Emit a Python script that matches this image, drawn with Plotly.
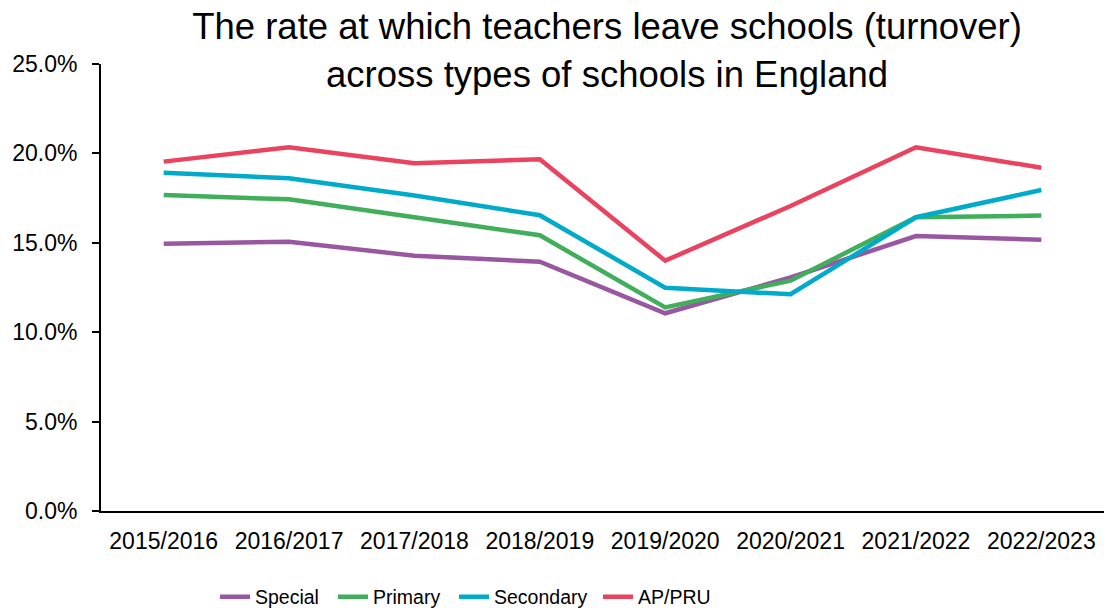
import plotly.graph_objects as go

years = ["2015/2016", "2016/2017", "2017/2018", "2018/2019",
         "2019/2020", "2020/2021", "2021/2022", "2022/2023"]

special = [0.1495, 0.1506, 0.1428, 0.1394, 0.1106, 0.1306, 0.1538, 0.1517]
primary = [0.1767, 0.1743, 0.1643, 0.1542, 0.1139, 0.1288, 0.1643, 0.1652]
secondary = [0.1892, 0.1861, 0.1764, 0.1654, 0.1249, 0.1212, 0.1643, 0.1795]
ap_pru = [0.1954, 0.2034, 0.1945, 0.1967, 0.1400, 0.1706, 0.2034, 0.1920]

series = [
    ("Special", special, "#9857A0"),
    ("Primary", primary, "#40AE5B"),
    ("Secondary", secondary, "#00ABCA"),
    ("AP/PRU", ap_pru, "#E9435F"),
]

# left edge (px) of each legend entry along the bottom row
legend_left_px = [215, 333, 454, 598]

font_main = "Liberation Sans, Arial, sans-serif"
W, H = 1120, 612

fig = go.Figure()
legend_layouts = {}
for i, (name, vals, color) in enumerate(series):
    key = "legend" if i == 0 else f"legend{i + 1}"
    fig.add_trace(go.Scatter(
        x=years, y=vals, name=name, mode="lines",
        line=dict(color=color, width=4.5),
        legend=key,
    ))
    legend_layouts[key] = dict(
        orientation="h", xref="container", yref="container",
        x=legend_left_px[i] / W, xanchor="left",
        y=0.0245, yanchor="middle",
        font=dict(size=19.5, family=font_main),
        itemwidth=30, bgcolor="rgba(0,0,0,0)",
    )

fig.update_layout(
    width=W, height=H,
    margin=dict(l=101, r=16, t=64, b=101),
    paper_bgcolor="white", plot_bgcolor="white",
    font=dict(family=font_main, color="black"),
    title=dict(
        text="The rate at which teachers leave schools (turnover)<br>across types of schools in England",
        font=dict(size=36.5, family=font_main, color="black"),
        x=0.542, xanchor="center", y=0.936, yanchor="top",
    ),
    showlegend=True,
    **legend_layouts,
)

fig.update_xaxes(
    type="category", range=[-0.5, 7.5],
    showline=True, linecolor="black", linewidth=2,
    showgrid=False, ticks="", tickfont=dict(size=23),
    ticklabelstandoff=8,
)
fig.update_yaxes(
    range=[0, 0.25], dtick=0.05, tickformat=".1%",
    showline=True, linecolor="black", linewidth=2,
    showgrid=False, zeroline=False,
    ticks="outside", ticklen=7, tickwidth=2, tickcolor="black",
    tickfont=dict(size=23), ticklabelstandoff=10,
)

fig.write_html("out.html")
